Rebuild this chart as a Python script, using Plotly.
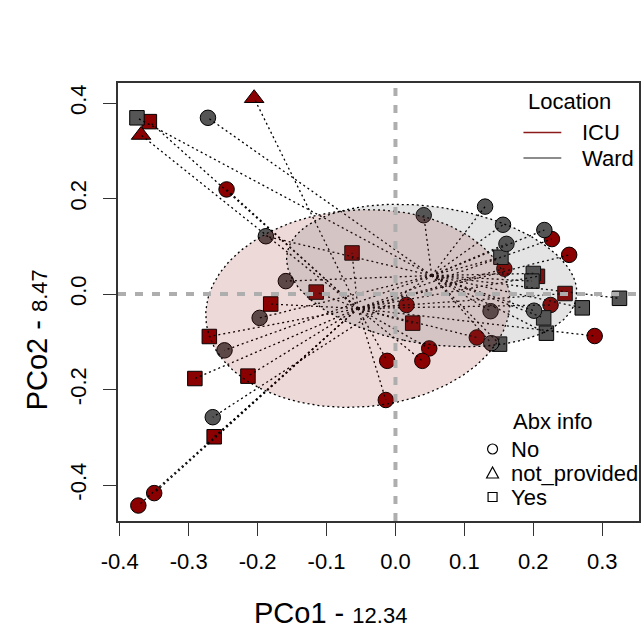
import numpy as np
import plotly.graph_objects as go

# ---------------- data ----------------
icu_pco1 = [-0.357, -0.063, -0.115, -0.181, -0.270, -0.291, -0.214, -0.263, 0.025, 0.246, 0.206,
            -0.369, -0.205,
            -0.245, -0.350, -0.373, 0.016, 0.289, 0.118, 0.049, -0.012, 0.039, -0.014,
            0.227, 0.252, 0.158, 0.225]
icu_pco2 = [0.361, 0.086, 0.004, -0.021, -0.089, -0.177, -0.172, -0.299, -0.061, 0.001, 0.037,
            0.333, 0.410,
            0.219, -0.417, -0.443, -0.023, -0.088, -0.091, -0.114, -0.140, -0.140, -0.222,
            0.115, 0.082, 0.053, -0.023]
icu_abx = ["Yes"] * 11 + ["not_provided"] * 2 + ["No"] * 14

ward_pco1 = [-0.375, 0.325, 0.271, 0.215, 0.219, 0.151, 0.153, 0.200, 0.198,
             -0.272, -0.188, -0.159, -0.197, -0.248, -0.265, 0.138, 0.201, 0.130, 0.041,
             0.156, 0.216, 0.161, 0.139]
ward_pco2 = [0.369, -0.009, -0.029, -0.050, -0.082, -0.105, 0.077, 0.043, 0.027,
             0.369, 0.121, 0.027, -0.050, -0.118, -0.258, -0.036, -0.035, 0.183, 0.165,
             0.145, 0.134, 0.105, -0.103]
ward_abx = ["Yes"] * 9 + ["No"] * 14

x_ticks = [-0.4, -0.3, -0.2, -0.1, 0.0, 0.1, 0.2, 0.3]
x_tick_labels = ["-0.4", "-0.3", "-0.2", "-0.1", "0.0", "0.1", "0.2", "0.3"]
y_ticks = [-0.4, -0.2, 0.0, 0.2, 0.4]
y_tick_labels = ["-0.4", "-0.2", "0.0", "0.2", "0.4"]

pco1_pct = "12.34"
pco2_pct = "8.47"

# ---------------- styling ----------------
FONT = "Liberation Sans, Arial, Helvetica, sans-serif"
RED = "#8B0000"
GRAY = "#555555"
symbols = {"No": "circle", "not_provided": "triangle-up", "Yes": "square"}
sizes = {"No": 15.5, "not_provided": 17, "Yes": 14.5}

groups = [
    ("ICU", icu_pco1, icu_pco2, icu_abx, RED, "rgba(139,0,0,0.15)"),
    ("Ward", ward_pco1, ward_pco2, ward_abx, GRAY, "rgba(85,85,85,0.16)"),
]

W, H = 642, 631
L, R, T, B = 118, 1, 83, 110
PW, PH = W - L - R, H - T - B


def px(xp):
    return (xp - L) / PW


def py(yp):
    return (H - B - yp) / PH


def sd_ellipse(xs, ys, k=1.0, n=240):
    xs, ys = np.asarray(xs), np.asarray(ys)
    c = np.array([xs.mean(), ys.mean()])
    cov = np.cov(xs, ys)
    vals, vecs = np.linalg.eigh(cov)
    t = np.linspace(0, 2 * np.pi, n)
    circ = np.vstack([np.cos(t), np.sin(t)])
    pts = c[:, None] + k * (vecs @ np.diag(np.sqrt(vals)) @ circ)
    return pts[0], pts[1]


fig = go.Figure()

# points
for name, xs, ys, abx, col, fillc in groups:
    fig.add_trace(go.Scatter(
        x=xs, y=ys, mode="markers", showlegend=False, hoverinfo="skip",
        marker=dict(color=col, opacity=1, symbol=[symbols[a] for a in abx],
                    size=[sizes[a] for a in abx],
                    line=dict(color="black", width=1))))

# spiders
for name, xs, ys, abx, col, fillc in groups:
    cx, cy = float(np.mean(xs)), float(np.mean(ys))
    sx, sy = [], []
    for x, y in zip(xs, ys):
        sx += [cx, x, None]
        sy += [cy, y, None]
    fig.add_trace(go.Scatter(
        x=sx, y=sy, mode="lines", showlegend=False, hoverinfo="skip",
        line=dict(color="black", width=1.3, dash="2px,3px")))

# ellipses
for name, xs, ys, abx, col, fillc in groups:
    ex, ey = sd_ellipse(xs, ys)
    fig.add_trace(go.Scatter(
        x=ex, y=ey, mode="lines", fill="toself", fillcolor=fillc,
        showlegend=False, hoverinfo="skip",
        line=dict(color="black", width=1.3, dash="2px,3px")))

# zero reference lines
for shp in [dict(type="line", xref="x", yref="paper", x0=0, x1=0, y0=0, y1=1),
            dict(type="line", xref="paper", yref="y", x0=0, x1=1, y0=0, y1=0)]:
    shp.update(layer="above", line=dict(color="#AEAEAE", width=4, dash="8px,9px"))
    fig.add_shape(**shp)

# ---------------- legends (drawn as layout items) ----------------
ann = []
shapes = []
tf = dict(family=FONT, size=22, color="black")
ann.append(dict(text="Location", x=px(528), y=py(101), xref="paper", yref="paper",
                xanchor="left", yanchor="middle", showarrow=False, font=tf))
for (lbl, col, yy) in [("ICU", "#8B1A1A", 132.5), ("Ward", "#666666", 158)]:
    shapes.append(dict(type="line", xref="paper", yref="paper", x0=px(525), x1=px(563),
                       y0=py(yy), y1=py(yy), line=dict(color=col, width=1.6)))
    ann.append(dict(text=lbl, x=px(582), y=py(yy), xref="paper", yref="paper",
                    xanchor="left", yanchor="middle", showarrow=False, font=tf))

ann.append(dict(text="Abx info", x=px(513), y=py(421), xref="paper", yref="paper",
                xanchor="left", yanchor="middle", showarrow=False, font=tf))
sym_x = 494
for (lbl, yy) in [("No", 449), ("not_provided", 473), ("Yes", 497)]:
    ann.append(dict(text=lbl, x=px(510), y=py(yy), xref="paper", yref="paper",
                    xanchor="left", yanchor="middle", showarrow=False, font=tf))
lw = dict(color="black", width=1.2)
shapes.append(dict(type="circle", xref="paper", yref="paper",
                   x0=px(sym_x - 5), x1=px(sym_x + 5), y0=py(449 + 5), y1=py(449 - 5), line=lw))
tri = f"M {px(sym_x - 6)},{py(473 + 5)} L {px(sym_x + 6)},{py(473 + 5)} L {px(sym_x)},{py(473 - 6)} Z"
shapes.append(dict(type="path", xref="paper", yref="paper", path=tri, line=lw))
shapes.append(dict(type="rect", xref="paper", yref="paper",
                   x0=px(sym_x - 4.5), x1=px(sym_x + 4.5), y0=py(497 + 4.5), y1=py(497 - 4.5), line=lw))

# axis titles
ann.append(dict(text=f"PCo1 - <span style='font-size:22px'>{pco1_pct}</span>",
                x=px(253), y=py(613), xref="paper", yref="paper", xanchor="left",
                yanchor="middle", showarrow=False, font=dict(family=FONT, size=29, color="black")))
ann.append(dict(text=f"PCo2 - <span style='font-size:22px'>{pco2_pct}</span>",
                x=px(37), y=py(340), xref="paper", yref="paper", xanchor="center",
                yanchor="middle", textangle=-90, showarrow=False,
                font=dict(family=FONT, size=29, color="black")))

for s in shapes:
    fig.add_shape(**s)

axis_common = dict(showgrid=False, zeroline=False, showline=True, mirror=True,
                   linecolor="#333333", linewidth=1.5, ticks="outside", ticklen=13,
                   tickwidth=1.3, tickcolor="#333333",
                   tickfont=dict(family=FONT, size=22, color="black"))

fig.update_layout(
    width=W, height=H, autosize=False,
    margin=dict(l=L, r=R, t=T, b=B, pad=0),
    plot_bgcolor="white", paper_bgcolor="white",
    annotations=ann,
    xaxis=dict(range=[-0.4025, 0.3533], tickvals=x_ticks, ticktext=x_tick_labels,
               ticklabelstandoff=7, **axis_common),
    yaxis=dict(range=[-0.4754, 0.4419], tickvals=y_ticks, ticktext=y_tick_labels,
               tickangle=-90, ticklabelstandoff=8, **axis_common),
)

fig.write_html("out.html")
